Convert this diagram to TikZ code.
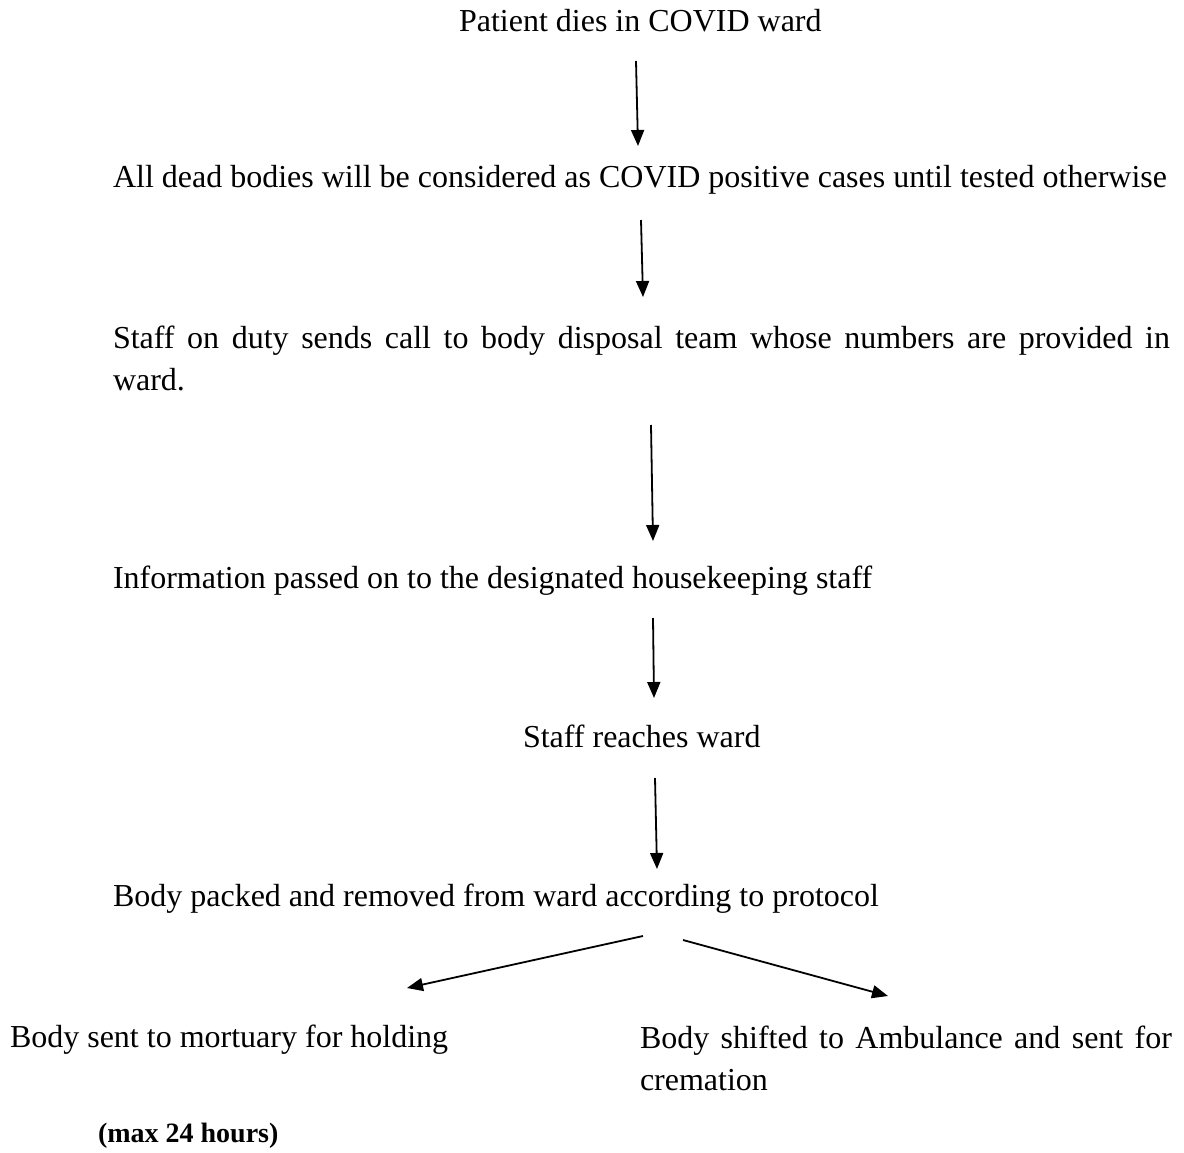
\documentclass[tikz,border=0pt]{standalone}
\usepackage{fontspec}
\setmainfont{Liberation Serif}
\usetikzlibrary{arrows.meta}
\begin{document}
\begin{tikzpicture}[x=1pt,y=-1pt,
  txt/.style={anchor=base west,inner sep=0pt,outer sep=0pt,font=\fontsize{32}{42}\selectfont},
  flow/.style={line width=1.8pt,-{Triangle[length=16pt,width=13pt]}}]
\useasboundingbox[fill=white] (0,0) rectangle (1184,1153);
\node[txt] (t1) at (459,32) {Patient dies in COVID ward};
\node[txt] (t2) at (113,188) {All dead bodies will be considered as COVID positive cases until tested otherwise};
\node[txt] (t3) at (113,348) {\parbox[t]{1057pt}{\makebox[1057pt][s]{Staff on duty sends call to body disposal team whose numbers are provided in}\\ward.}};
\node[txt] (t4) at (113,588) {Information passed on to the designated housekeeping staff};
\node[txt] (t5) at (523,747) {Staff reaches ward};
\node[txt] (t6) at (113,906) {Body packed and removed from ward according to protocol};
\node[txt] (t7) at (10,1047) {Body sent to mortuary for holding};
\node[txt] (t8) at (640,1048) {\parbox[t]{532pt}{\makebox[532pt][s]{Body shifted to Ambulance and sent for}\\cremation}};
\node[txt,font=\fontsize{28}{34}\selectfont\bfseries] (t9) at (98,1142) {(max 24 hours)};
\coordinate (a1s) at (636,61);  \coordinate (a1e) at (638,146);
\coordinate (a2s) at (641,220); \coordinate (a2e) at (643,297);
\coordinate (a3s) at (651,425); \coordinate (a3e) at (653,541);
\coordinate (a4s) at (653,618); \coordinate (a4e) at (654,698);
\coordinate (a5s) at (655,778); \coordinate (a5e) at (657,869);
\coordinate (a6s) at (643,936); \coordinate (a6e) at (407,988);
\coordinate (a7s) at (683,940); \coordinate (a7e) at (888,996);
\draw[flow] (a1s) -- (a1e);
\draw[flow] (a2s) -- (a2e);
\draw[flow] (a3s) -- (a3e);
\draw[flow] (a4s) -- (a4e);
\draw[flow] (a5s) -- (a5e);
\draw[flow] (a6s) -- (a6e);
\draw[flow] (a7s) -- (a7e);
\end{tikzpicture}
\end{document}
